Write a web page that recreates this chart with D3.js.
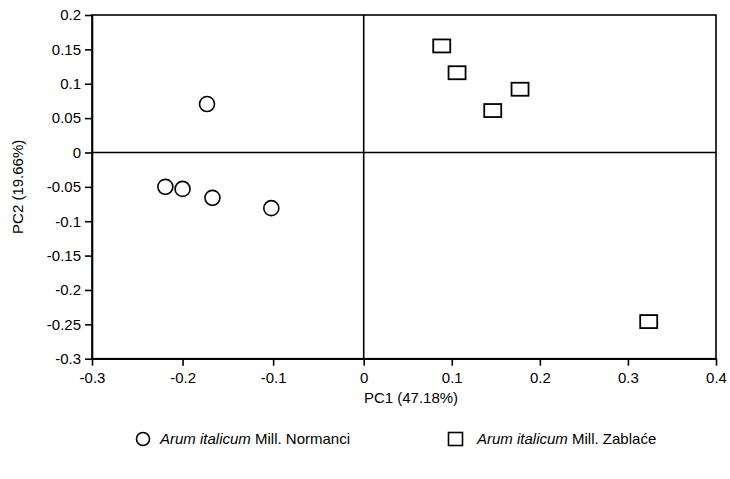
<!DOCTYPE html>
<html>
<head>
<meta charset="utf-8">
<script src="https://cdn.jsdelivr.net/npm/d3@7"></script>
<style>
body { margin: 0; background: #fff; }
text { font-family: "Liberation Sans", Arial, Helvetica, sans-serif; fill: #000; }
</style>
</head>
<body>
<svg id="chart" width="730" height="479"></svg>
<script>
const normanciPC1 = [-0.173, -0.219, -0.200, -0.167, -0.102];
const normanciPC2 = [0.0705, -0.050, -0.053, -0.066, -0.081];
const zablacePC1 = [0.0886, 0.106, 0.1775, 0.1465, 0.3236];
const zablacePC2 = [0.155, 0.116, 0.092, 0.061, -0.246];
const xTicks = [-0.3, -0.2, -0.1, 0, 0.1, 0.2, 0.3, 0.4];
const yTicks = [0.2, 0.15, 0.1, 0.05, 0, -0.05, -0.1, -0.15, -0.2, -0.25, -0.3];
const seriesNames = ["Normanci", "Zablaće"];

(function () {
const svg = d3.select("#chart");
const mL = 92, mR = 716, mT = 15, mB = 358.7, zeroX = 363.7;
const FS = 15;
const x = d3.scaleLinear().domain([-0.3, 0, 0.4]).range([mL, zeroX, mR]);
const y = d3.scaleLinear().domain([-0.3, 0.2]).range([mB, mT]);
const fmt = d => d === 0 ? "0" : String(+d.toFixed(2));

// frame
svg.append("rect").attr("x", mL).attr("y", mT).attr("width", mR - mL).attr("height", mB - mT)
  .attr("fill", "none").attr("stroke", "#000").attr("stroke-width", 1.6);

// axes
const xAxis = svg.append("g").attr("transform", `translate(0,${mB})`)
  .call(d3.axisBottom(x).tickValues(xTicks).tickFormat(fmt).tickSize(7).tickSizeOuter(0));
const yAxis = svg.append("g").attr("transform", `translate(${mL},0)`)
  .call(d3.axisLeft(y).tickValues(yTicks).tickFormat(fmt).tickSize(7).tickSizeOuter(0));
[xAxis, yAxis].forEach(g => {
  g.select(".domain").attr("stroke", "#000").attr("stroke-width", 1.6);
  g.selectAll(".tick line").attr("stroke", "#000").attr("stroke-width", 1.6);
  g.selectAll(".tick text").attr("font-size", FS).attr("font-family", "Liberation Sans, Arial, sans-serif").attr("fill", "#000");
});
xAxis.selectAll(".tick text").attr("dy", "0.95em").attr("y", 10);
yAxis.selectAll(".tick text").attr("x", -11);

// zero lines
svg.append("line").attr("x1", x(0)).attr("x2", x(0)).attr("y1", mT).attr("y2", mB)
  .attr("stroke", "#000").attr("stroke-width", 1.6);
svg.append("line").attr("x1", mL).attr("x2", mR).attr("y1", y(0)).attr("y2", y(0))
  .attr("stroke", "#000").attr("stroke-width", 1.6);

// points
const circ = normanciPC1.map((v, i) => [v, normanciPC2[i]]);
const sq = zablacePC1.map((v, i) => [v, zablacePC2[i]]);
svg.append("g").selectAll("circle").data(circ).join("circle")
  .attr("cx", d => x(d[0])).attr("cy", d => y(d[1])).attr("r", 7.5)
  .attr("fill", "#fff").attr("stroke", "#000").attr("stroke-width", 1.6);
svg.append("g").selectAll("rect").data(sq).join("rect")
  .attr("x", d => x(d[0]) - 8.5).attr("y", d => y(d[1]) - 6.5).attr("width", 17).attr("height", 13)
  .attr("fill", "#fff").attr("stroke", "#000").attr("stroke-width", 1.8);

// axis titles
svg.append("text").attr("x", 411).attr("y", 403).attr("text-anchor", "middle")
  .attr("font-size", FS).text("PC1 (47.18%)");
svg.append("text").attr("transform", `translate(23,${(mT + mB) / 2}) rotate(-90)`)
  .attr("text-anchor", "middle").attr("font-size", FS).text("PC2 (19.66%)");

// legend
const leg = svg.append("g");
leg.append("circle").attr("cx", 143).attr("cy", 439).attr("r", 6.5)
  .attr("fill", "#fff").attr("stroke", "#000").attr("stroke-width", 1.6);
const t1 = leg.append("text").attr("x", 160).attr("y", 444).attr("font-size", FS);
t1.append("tspan").attr("font-style", "italic").text("Arum italicum");
t1.append("tspan").text(" Mill. " + seriesNames[0]);
leg.append("rect").attr("x", 448.5).attr("y", 432.5).attr("width", 14).attr("height", 13)
  .attr("fill", "#fff").attr("stroke", "#000").attr("stroke-width", 1.6);
const t2 = leg.append("text").attr("x", 477).attr("y", 444).attr("font-size", FS);
t2.append("tspan").attr("font-style", "italic").text("Arum italicum");
t2.append("tspan").text(" Mill. " + seriesNames[1]);
})();
</script>
</body>
</html>
